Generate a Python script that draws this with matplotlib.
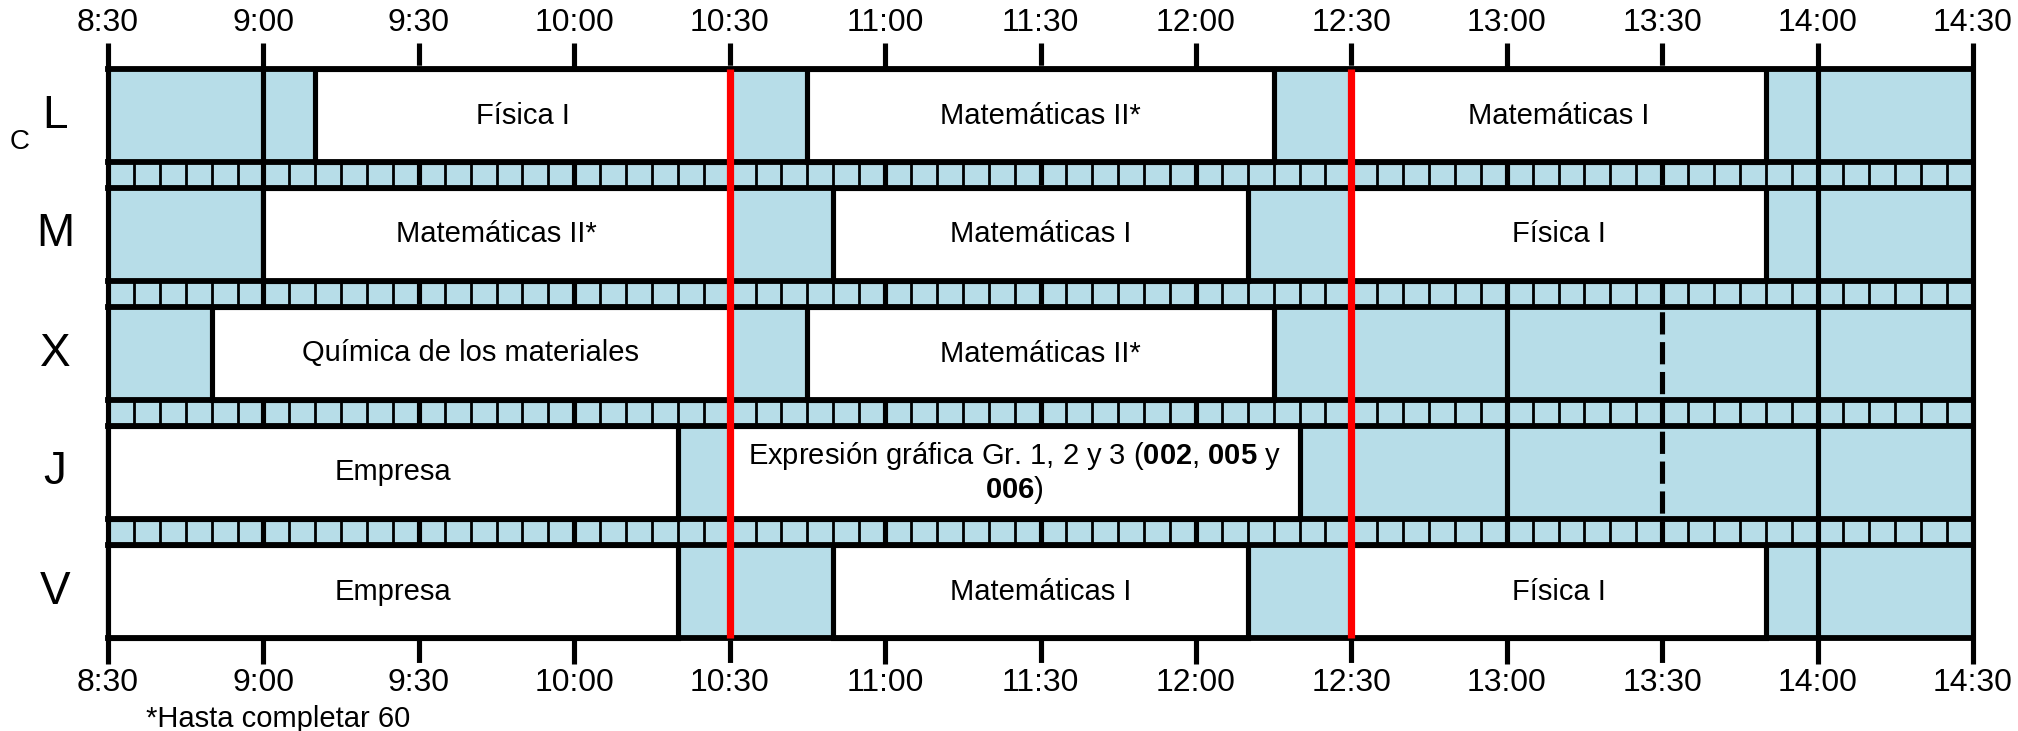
import matplotlib
matplotlib.use("Agg")
import matplotlib.pyplot as plt
from matplotlib.patches import Rectangle

plt.rcParams['font.family'] = ['Liberation Sans', 'DejaVu Sans']
plt.rcParams['mathtext.fontset'] = 'custom'
plt.rcParams['mathtext.rm'] = 'Liberation Sans'
plt.rcParams['mathtext.bf'] = 'Liberation Sans:bold'
plt.rcParams['lines.scale_dashes'] = False

# ---------------- data ----------------
days = ['L', 'M', 'X', 'J', 'V']
tick_labels = ['8:30', '9:00', '9:30', '10:00', '10:30', '11:00', '11:30',
               '12:00', '12:30', '13:00', '13:30', '14:00', '14:30']
break_times = ['10:30', '12:30']

lunes = [('9:10', '10:30', 'Física I'),
         ('10:45', '12:15', 'Matemáticas II*'),
         ('12:30', '13:50', 'Matemáticas I')]
martes = [('9:00', '10:30', 'Matemáticas II*'),
          ('10:50', '12:10', 'Matemáticas I'),
          ('12:30', '13:50', 'Física I')]
miercoles = [('8:50', '10:30', 'Química de los materiales'),
             ('10:45', '12:15', 'Matemáticas II*')]
jueves = [('8:30', '10:20', 'Empresa'),
          ('10:30', '12:20', 'Expresión gráfica Gr. 1, 2 y 3 ($\\mathbf{002}$, $\\mathbf{005}$ y\n$\\mathbf{006}$)')]
viernes = [('8:30', '10:20', 'Empresa'),
           ('10:50', '12:10', 'Matemáticas I'),
           ('12:30', '13:50', 'Física I')]
schedule = [lunes, martes, miercoles, jueves, viernes]
footnote = '*Hasta completar 60'

# ---------------- layout ----------------
W, H = 2018, 731
X0_PX = 108.0           # pixel of 8:30
PX_PER_MIN = 1865.0 / 360.0
TOP = 69.0              # top line of first row (pixels)
ROW_H = 93.0
STRIP_H = 26.0
TICK_TOP = 43.0
BLUE = '#B7DDE8'
LW_THICK = 3.7
LW_THIN = 2.0
FS_CLASS = 21
FS_TICK = 23


def tmin(s):
    h, m = s.split(':')
    return (int(h) - 8) * 60 + int(m) - 30


total = tmin(tick_labels[-1])
fig = plt.figure(figsize=(W / 100, H / 100), dpi=100)
ax = fig.add_axes([0, 0, 1, 1])
ax.set_xlim(-X0_PX / PX_PER_MIN, (W - X0_PX) / PX_PER_MIN)
ax.set_ylim(H, 0)
ax.axis('off')

n = len(days)
row_tops = [TOP + i * (ROW_H + STRIP_H) for i in range(n)]
BOTTOM = row_tops[-1] + ROW_H
TICK_BOT = BOTTOM + 26

# blue background
ax.add_patch(Rectangle((0, TOP), total, BOTTOM - TOP, facecolor=BLUE,
                       edgecolor='none', zorder=1))

# thin 5-minute cell borders in strips
for i in range(n - 1):
    y0 = row_tops[i] + ROW_H
    y1 = y0 + STRIP_H
    for m in range(5, total, 5):
        if m % 30 != 0:
            ax.plot([m, m], [y0, y1], color='black', lw=LW_THIN, zorder=2,
                    solid_capstyle='butt')

# hour (solid) and half-hour (dashed) lines
for k, lab in enumerate(tick_labels):
    m = tmin(lab)
    if m == 0 or m == total or lab.endswith(':00'):
        ax.plot([m, m], [TICK_TOP, TICK_BOT], color='black', lw=LW_THICK,
                zorder=3, solid_capstyle='butt')
    else:
        ax.plot([m, m], [TICK_TOP, TICK_BOT], color='black', lw=LW_THICK,
                zorder=3, dashes=(16, 5.5), dash_capstyle='butt')
    ax.text(m, 23, lab, ha='center', va='center', fontsize=FS_TICK, zorder=8)
    ax.text(m, BOTTOM + 45, lab, ha='center', va='center', fontsize=FS_TICK,
            zorder=8)

# class boxes
for i, day in enumerate(schedule):
    yt = row_tops[i]
    for s, e, lab in day:
        a, b = tmin(s), tmin(e)
        ax.add_patch(Rectangle((a, yt), b - a, ROW_H, facecolor='white',
                               edgecolor='black', lw=LW_THICK, zorder=4))
        if '\n' in lab:
            l1, l2 = lab.split('\n')
            ax.text((a + b) / 2, yt + ROW_H / 2 - 17, l1, ha='center',
                    va='center', fontsize=FS_CLASS, zorder=8)
            ax.text((a + b) / 2, yt + ROW_H / 2 + 17, l2, ha='center',
                    va='center', fontsize=FS_CLASS, zorder=8)
        else:
            ax.text((a + b) / 2, yt + ROW_H / 2, lab, ha='center',
                    va='center', fontsize=FS_CLASS, zorder=8)

# horizontal row lines
for yt in row_tops:
    for y in (yt, yt + ROW_H):
        ax.plot([0, total], [y, y], color='black', lw=4.2, zorder=5,
                solid_capstyle='projecting')

# red break lines
for bt in break_times:
    m = tmin(bt)
    ax.plot([m, m], [TOP, BOTTOM], color='#FF0000', lw=5.2, zorder=6,
            solid_capstyle='butt')

# day labels
for i, d in enumerate(days):
    ax.text((55 - X0_PX) / PX_PER_MIN, row_tops[i] + ROW_H / 2, d,
            ha='center', va='center', fontsize=33, zorder=8)
ax.text((20 - X0_PX) / PX_PER_MIN, 142, 'C', ha='center', va='center',
        fontsize=20, zorder=8)

# footnote
ax.text((146 - X0_PX) / PX_PER_MIN, 719, footnote, ha='left', va='center',
        fontsize=21, zorder=8)

fig.savefig('out.png', dpi=100)
